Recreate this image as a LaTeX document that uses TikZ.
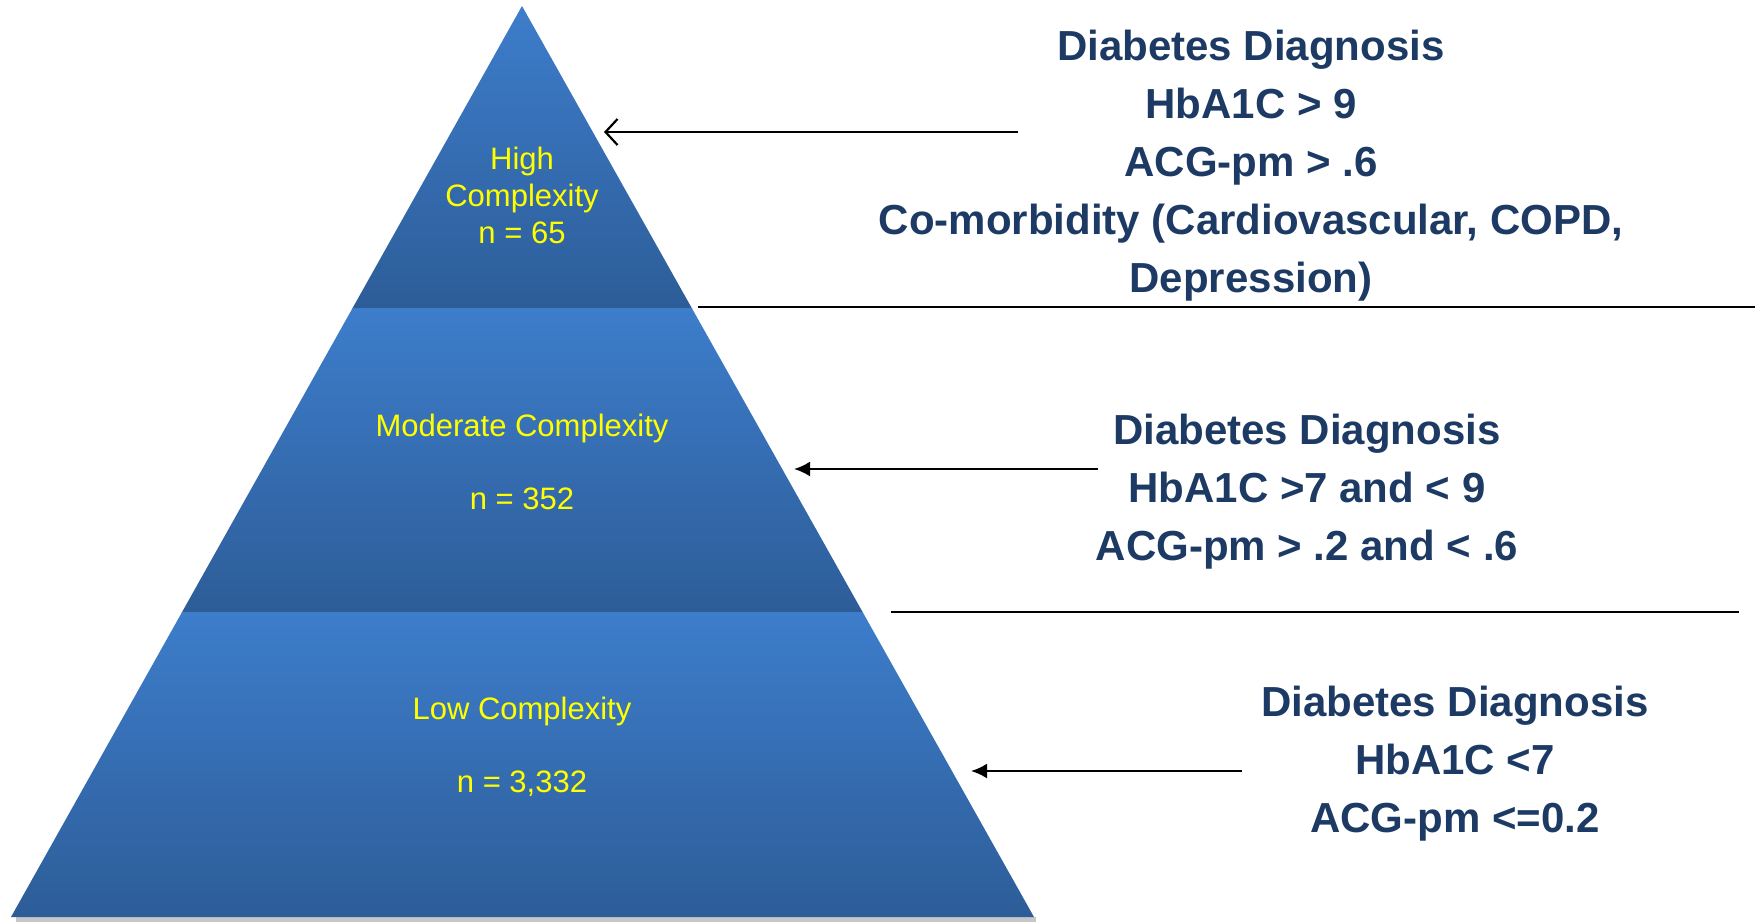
\documentclass[tikz,border=0pt]{standalone}
\usepackage{fontspec}
\setmainfont{Liberation Sans}
\usetikzlibrary{arrows.meta}
\definecolor{tierlight}{RGB}{61,125,203}
\definecolor{tierdark}{RGB}{45,93,152}
\definecolor{critnavy}{RGB}{28,58,99}
\definecolor{tieryellow}{RGB}{255,255,0}
\tikzstyle{tier} = [
  top color=tierlight,
  bottom color=tierdark,
]
\tikzstyle{tierlabel} = [
  text=tieryellow,
  align=center,
  font=\fontsize{31}{37}\selectfont,
]
\tikzstyle{criteria} = [
  text=critnavy,
  align=center,
  font=\fontsize{42}{58}\selectfont\bfseries,
]
\tikzstyle{divider} = [line width=2.2pt]
\tikzstyle{pointer} = [line width=2.2pt, -{Latex[length=16pt,width=15pt]}]

\begin{document}
\begin{tikzpicture}[x=1pt, y=-1pt]
      \useasboundingbox (0,0) rectangle (1758,922);

      \coordinate (apex) at (522,6);
      \coordinate (baseL) at (11,917);
      \coordinate (baseR) at (1034,917);

      % Pyramid
      \fill[black!22] (16,917) rectangle (1036,922);
      \begin{scope}
        \clip (apex) -- (baseL) -- (baseR) -- cycle;
        \shade[tier] (0,6) rectangle (1040,308);
        \shade[tier] (0,308) rectangle (1040,612);
        \shade[tier] (0,612) rectangle (1040,917);
      \end{scope}

      % Labels
      \node[tierlabel] (high) at (522,195) {High\\Complexity\\n = 65};
      \node[tierlabel] (moderate) at (522,462) {Moderate Complexity\\[36pt]n = 352};
      \node[tierlabel] (low) at (522,747) {Low Complexity\\[36pt]n = 3,332};

      % Criteria
      \node[criteria] (critHigh) at (1251,166) {Diabetes Diagnosis\\HbA1C > 9\\ACG-pm > .6\\Co-morbidity (Cardiovascular, COPD,\\Depression)};
      \node[criteria] (critModerate) at (1307,492) {Diabetes Diagnosis\\HbA1C >7 and < 9\\ACG-pm > .2 and < .6};
      \node[criteria] (critLow) at (1455,764) {Diabetes Diagnosis\\HbA1C <7\\ACG-pm <=0.2};

      % Dividers
      \draw[divider] (698,307) -- (1755,307);
      \draw[divider] (891,612) -- (1739,612);

      % Arrows
      \coordinate (tailHigh) at (1018,132);
      \coordinate (tipHigh) at (604,132);
      \coordinate (tailModerate) at (1098,469);
      \coordinate (tipModerate) at (794,469);
      \coordinate (tailLow) at (1242,771);
      \coordinate (tipLow) at (971,771);
      \draw[line width=2.2pt, -{Straight Barb[length=12pt,width=26pt]}] (tailHigh) -- (tipHigh);
      \draw[pointer] (tailModerate) -- (tipModerate);
      \draw[pointer] (tailLow) -- (tipLow);
    \end{tikzpicture}
\end{document}
